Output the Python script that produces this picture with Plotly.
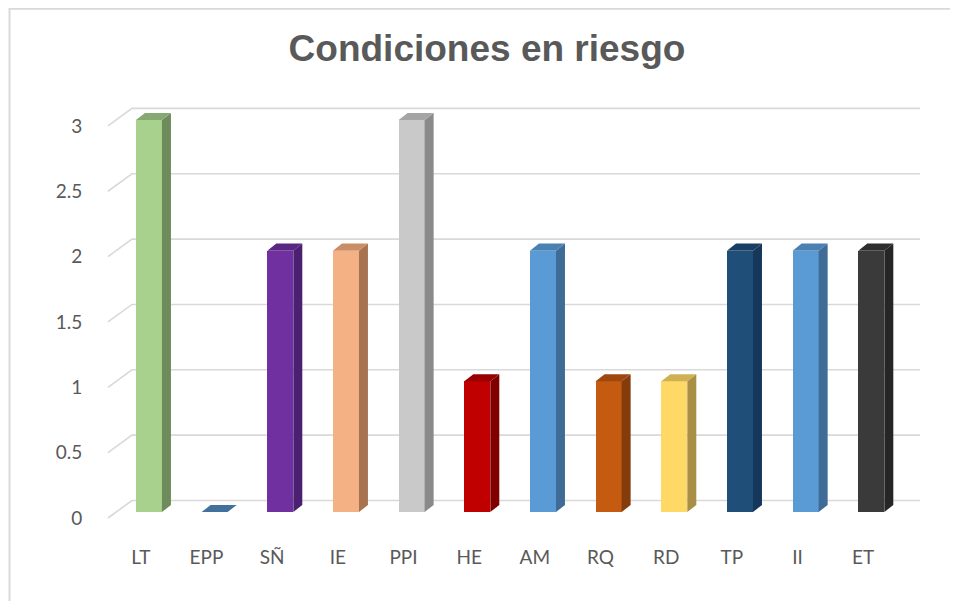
import plotly.graph_objects as go

# ---- data ----
categories = ["LT", "EPP", "SÑ", "IE", "PPI", "HE", "AM", "RQ", "RD", "TP", "II", "ET"]
values = [3, 0, 2, 2, 3, 1, 2, 1, 1, 2, 2, 2]
front_colors = ["#A9D18E", "#4472A8", "#7030A0", "#F4B183", "#C9C9C9", "#C00000",
                "#5B9BD5", "#C55A11", "#FFD966", "#1F4E79", "#5B9BD5", "#3A3A3A"]
side_colors = ["#6E8B5C", "#36618F", "#4B2070", "#A87350", "#8A8A8A", "#800000",
               "#3E6C96", "#843C0C", "#A88F45", "#15375A", "#3E6C96", "#262626"]
top_colors = ["#86A872", "#41719C", "#5A2683", "#C98E65", "#A5A5A5", "#990000",
              "#4A80B2", "#9E470E", "#CFB052", "#183F63", "#4A80B2", "#2E2E2E"]
y_ticks = [0, 0.5, 1, 1.5, 2, 2.5, 3]
title = "Condiciones en riesgo"

# ---- 3D geometry (style) ----
DX, DY = 0.3655, 0.134          # floor depth offset (x units, y units)
BF = 0.34                       # bar depth position as fraction of floor depth
BOX, BASE = BF * DX, BF * DY    # bar front offset
BW = 0.396                      # bar width
SX, SY = 0.137, 0.054           # bar depth
X_END = 11.866                  # right end of back wall gridlines

fig = go.Figure()

# side and top faces
for i, v in enumerate(values):
    xl = i + BOX - BW / 2
    xr = i + BOX + BW / 2
    b = BASE
    t = BASE + v
    if v > 0:
        fig.add_trace(go.Scatter(
            x=[xr, xr + SX, xr + SX, xr, xr], y=[b, b + SY, t + SY, t, b],
            mode="lines", fill="toself", fillcolor=side_colors[i],
            line=dict(width=0, color=side_colors[i]), hoverinfo="skip", showlegend=False))
    fig.add_trace(go.Scatter(
        x=[xl, xl + SX, xr + SX, xr, xl], y=[t, t + SY, t + SY, t, t],
        mode="lines", fill="toself", fillcolor=top_colors[i],
        line=dict(width=0, color=top_colors[i]), hoverinfo="skip", showlegend=False))

# front faces
fig.add_trace(go.Bar(x=[i + BOX for i in range(len(categories))], y=values, base=BASE,
                     width=BW, marker=dict(color=front_colors, line=dict(width=0)),
                     showlegend=False, hovertext=categories))

# gridlines on back wall with diagonal floor connectors (below the bars)
shapes = []
for v in y_ticks:
    shapes.append(dict(type="path", xref="x", yref="y", layer="below",
                       path="M %f,%f L %f,%f L %f,%f" % (-0.5, v, -0.5 + DX, v + DY, X_END, v + DY),
                       line=dict(color="#D9D9D9", width=1.6)))
# chart frame
shapes.append(dict(type="rect", xref="paper", yref="paper", x0=-0.109, x1=1.06, y0=-0.2, y1=1.198,
                   line=dict(color="#D9D9D9", width=2), fillcolor="rgba(0,0,0,0)", layer="below"))

font_fam = "Lato, 'Open Sans', sans-serif"
fig.update_layout(
    width=958, height=601,
    margin=dict(l=92, r=36, t=87, b=79),
    paper_bgcolor="white", plot_bgcolor="white",
    title=dict(text="<b>" + title + "</b>", x=0.5, xanchor="center", y=0.934, yanchor="middle",
               xref="container",
               font=dict(family="'Liberation Sans', Arial, sans-serif", size=37, color="#595959")),
    xaxis=dict(range=[-0.6213, 12.018], tickmode="array", tickvals=list(range(len(categories))),
               ticktext=categories, showgrid=False, zeroline=False, showline=False,
               ticks="outside", ticklen=0, ticklabelstandoff=10, automargin=False,
               tickfont=dict(family=font_fam, size=19, color="#595959")),
    yaxis=dict(range=[-0.0918, 3.2364], tickmode="array", tickvals=y_ticks,
               ticktext=[("%g" % v) for v in y_ticks], showgrid=False, zeroline=False,
               showline=False, ticks="outside", ticklen=0, ticklabelstandoff=13, automargin=False,
               tickfont=dict(family=font_fam, size=19, color="#595959")),
    shapes=shapes,
    bargap=0,
)

fig.write_html("out.html")
